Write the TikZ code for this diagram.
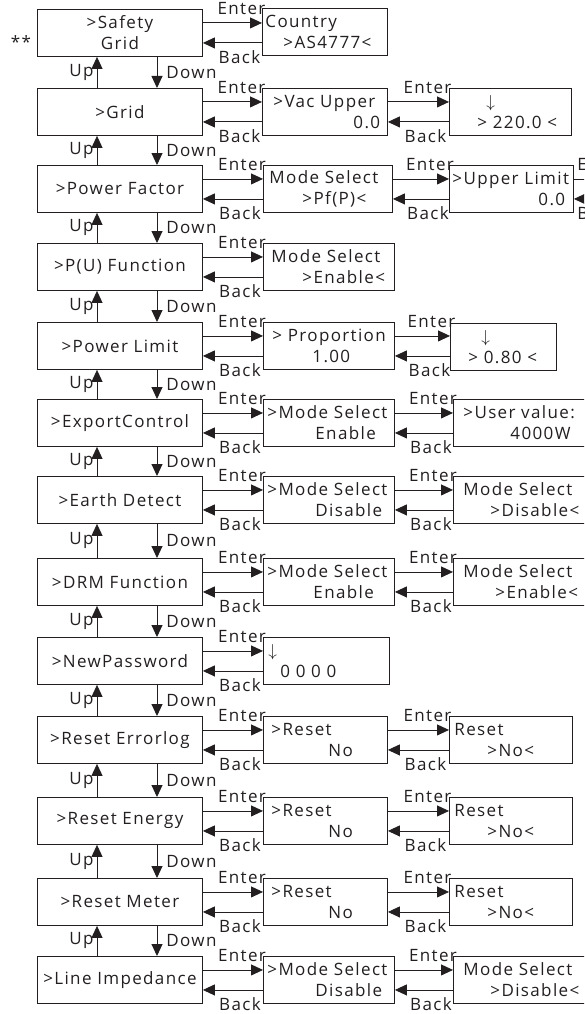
\documentclass[tikz,border=0pt]{standalone}
\usepackage{fontspec}
\setmainfont{Open Sans}[LetterSpace=8]
\usetikzlibrary{arrows.meta}
\definecolor{tinta}{HTML}{231F20}
\newcommand{\lcd}[4]{\hspace*{#1pt}\makebox[0pt][l]{#2}\\\hspace*{#3pt}\makebox[0pt][l]{#4}}

\begin{document}
\begin{tikzpicture}[x=1pt, y=-1pt, font=\fontsize{17}{21}\selectfont,
    menu/.style={draw=tinta, line width=0.9pt, text=tinta, minimum height=47pt,
                 text width=165pt, inner xsep=0pt, inner ysep=0pt, align=center, anchor=north west},
    pantalla/.style={draw=tinta, line width=0.9pt, text=tinta, minimum height=47pt,
                 text width=#1, inner xsep=0pt, inner ysep=0pt, align=left, anchor=north west},
    flecha/.style={-{Triangle[length=12pt,width=11pt]}, draw=tinta, line width=0.9pt},
    etiq/.style={inner sep=0pt, text=tinta}]
  \useasboundingbox (0,0) rectangle (584,1014);
  \clip (0,0) rectangle (584,1014);

  % menu column
  \foreach \i/\y/\txt in {1/9/{>Safety\\Grid}, 2/88/>Grid, 3/165/>Power Factor,
      4/243/>P(U) Function, 5/322/>Power Limit, 6/399/>ExportControl,
      7/476/>Earth Detect, 8/558/>DRM Function, 9/637/>NewPassword,
      10/716/>Reset Errorlog, 11/797/>Reset Energy, 12/878/>Reset Meter,
      13/956/>Line~Impedance}
    \node[menu] (m\i) at (37,\y) {\txt};
  \node[etiq, anchor=base] (marca) at (21,49) {**};

  % second and third screens
  \node[pantalla=125pt] (s1) at (262,8) {\lcd{3}{Country}{21}{>AS4777<}};
  \node[pantalla=125pt] (s2) at (262,88) {\lcd{11}{>Vac Upper}{91}{0.0}};
  \node[pantalla=122pt] (t2) at (449,88) {\lcd{37}{$\downarrow$}{28}{> 220.0 <}};
  \node[pantalla=129pt] (s3) at (263,165) {\lcd{6}{Mode Select}{39}{>Pf(P)<}};
  \node[pantalla=124pt] (t3) at (449,165) {\lcd{3}{>Upper Limit}{89}{0.0}};
  \node[pantalla=131pt] (s4) at (263,243) {\lcd{8}{Mode Select}{39}{>Enable<}};
  \node[pantalla=131pt] (s5) at (263,322) {\lcd{9}{> Proportion}{49}{1.00}};
  \node[pantalla=106pt] (t5) at (450,323) {\lcd{31}{$\downarrow$}{18}{> 0.80 <}};
  \node[pantalla=131pt] (s6) at (263,399) {\lcd{4}{>Mode Select}{52}{Enable}};
  \node[pantalla=140pt] (t6) at (453,399) {\lcd{10}{>User value:}{57}{4000W}};
  \node[pantalla=131pt] (s7) at (263,476) {\lcd{4}{>Mode Select}{52}{Disable}};
  \node[pantalla=140pt] (t7) at (453,476) {\lcd{10}{Mode Select}{37}{>Disable<}};
  \node[pantalla=131pt] (s8) at (263,558) {\lcd{4}{>Mode Select}{50}{Enable}};
  \node[pantalla=140pt] (t8) at (453,558) {\lcd{10}{Mode Select}{42}{>Enable<}};
  \node[pantalla=126pt] (s9) at (263,637) {\lcd{5}{$\downarrow$}{17}{0 0 0 0}};
  \foreach \i/\y in {10/716, 11/797, 12/878} {
    \node[pantalla=124pt] (s\i) at (263,\y) {\lcd{8}{>Reset}{65}{No}};
    \node[pantalla=123pt] (t\i) at (449,\y) {\lcd{5}{Reset}{38}{>No<}};
  }
  \node[pantalla=131pt] (s13) at (263,956) {\lcd{4}{>Mode Select}{52}{Disable}};
  \node[pantalla=140pt] (t13) at (453,956) {\lcd{10}{Mode Select}{37}{>Disable<}};

  % up / down
  \foreach \i [evaluate=\i as \j using int(\i+1)] in {1,...,12} {
    \draw[flecha] ([xshift=120pt]m\i.south west) -- node[etiq, right=9pt]{Down} ([xshift=120pt]m\j.north west);
    \draw[flecha] ([xshift=60pt]m\j.north west) -- node[etiq, left=3pt]{Up} ([xshift=60pt]m\i.south west);
  }

  % enter / back
  \foreach \a/\b in {m1/s1, m2/s2, m3/s3, m4/s4, m5/s5, m6/s6, m7/s7, m8/s8, m9/s9,
      m10/s10, m11/s11, m12/s12, m13/s13, s2/t2, s3/t3, s5/t5, s6/t6, s7/t7, s8/t8,
      s10/t10, s11/t11, s12/t12, s13/t13} {
    \draw[flecha] ([yshift=10pt]\a.east) -- node[etiq, above=8pt, xshift=9pt]{Enter} ([yshift=10pt]\a.east -| \b.west);
    \draw[flecha] ([yshift=-10pt]\a.east -| \b.west) -- node[etiq, below=7pt, xshift=7pt]{Back} ([yshift=-10pt]\a.east);
  }

  % next screen, off the page
  \coordinate (borde) at (640,188);
  \draw[flecha] ([yshift=10pt]t3.east) -- node[etiq, pos=0, anchor=south west, xshift=3pt, yshift=8pt]{Enter} ([yshift=10pt]t3.east -| borde);
  \draw[flecha] ([yshift=-10pt]t3.east -| borde) -- node[etiq, pos=1, anchor=north west, xshift=3pt, yshift=-7pt]{Back} ([yshift=-10pt]t3.east);
\end{tikzpicture}
\end{document}
